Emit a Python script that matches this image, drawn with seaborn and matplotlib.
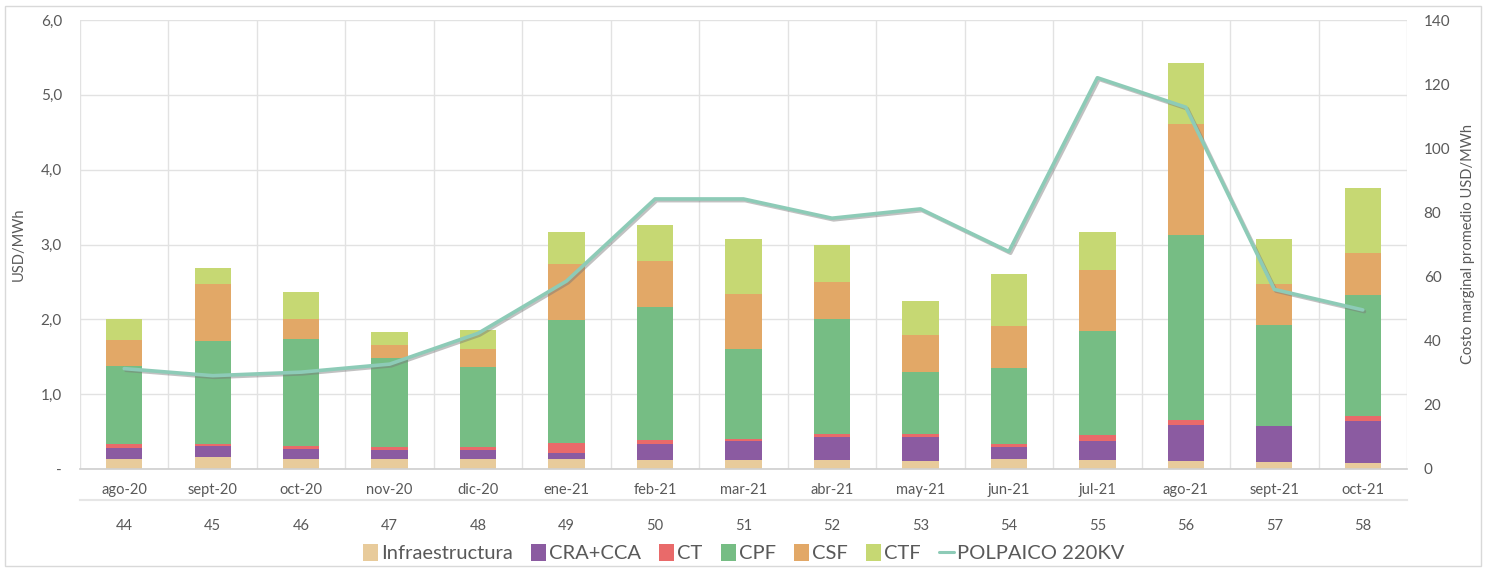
import numpy as np
import pandas as pd
import matplotlib
matplotlib.use("Agg")
import matplotlib.pyplot as plt
import matplotlib.patheffects as pe
from matplotlib.patches import Rectangle, Patch
from matplotlib.lines import Line2D
from matplotlib.ticker import FuncFormatter
import seaborn as sns

# datos
months = ["ago-20", "sept-20", "oct-20", "nov-20", "dic-20", "ene-21", "feb-21", "mar-21",
          "abr-21", "may-21", "jun-21", "jul-21", "ago-21", "sept-21", "oct-21"]
weeks = [44, 45, 46, 47, 48, 49, 50, 51, 52, 53, 54, 55, 56, 57, 58]
infra = [0.13, 0.16, 0.14, 0.13, 0.13, 0.14, 0.12, 0.12, 0.12, 0.11, 0.13, 0.12, 0.11, 0.09, 0.08]
cra_cca = [0.15, 0.15, 0.13, 0.13, 0.12, 0.07, 0.21, 0.25, 0.31, 0.32, 0.17, 0.25, 0.48, 0.49, 0.56]
ct = [0.06, 0.03, 0.04, 0.03, 0.05, 0.14, 0.06, 0.03, 0.04, 0.04, 0.04, 0.09, 0.07, 0.00, 0.07]
cpf = [1.04, 1.37, 1.43, 1.19, 1.06, 1.64, 1.78, 1.20, 1.54, 0.83, 1.01, 1.38, 2.47, 1.35, 1.61]
csf = [0.35, 0.76, 0.27, 0.18, 0.25, 0.75, 0.61, 0.74, 0.49, 0.49, 0.56, 0.82, 1.48, 0.54, 0.56]
ctf = [0.27, 0.21, 0.36, 0.17, 0.25, 0.43, 0.48, 0.73, 0.49, 0.46, 0.70, 0.51, 0.81, 0.61, 0.88]
polpaico = [31.3, 29.1, 30.2, 32.7, 42.3, 58.6, 84.2, 84.2, 78.2, 81.1, 67.8, 122.0, 112.8, 56.0, 49.6]

layers = ["Infraestructura", "CRA+CCA", "CT", "CPF", "CSF", "CTF"]
colors = {"Infraestructura": "#E8CB9B", "CRA+CCA": "#8B5BA1", "CT": "#E96A6A",
          "CPF": "#76BD84", "CSF": "#E2A867", "CTF": "#C6D873"}
line_color = "#8DCBB7"
grey = "#595959"
grid_c = "#E2E2E2"

df = pd.DataFrame({"mes": months, "Infraestructura": infra, "CRA+CCA": cra_cca, "CT": ct,
                   "CPF": cpf, "CSF": csf, "CTF": ctf})
cum = df[layers].cumsum(axis=1)

sns.set_theme(style="white")
plt.rcParams["font.family"] = ["Lato", "DejaVu Sans"]

W, H = 1487, 572
fig = plt.figure(figsize=(W / 100, H / 100), dpi=100)
ax = fig.add_axes([80 / W, 1 - 469 / H, 1327 / W, 449 / H])

# barras apiladas: se dibujan los acumulados de arriba hacia abajo
for name in reversed(layers):
    sns.barplot(x=df["mes"], y=cum[name], order=months, color=colors[name], width=0.41,
                saturation=1, errorbar=None, linewidth=0, edgecolor="none", ax=ax, zorder=2)

ax.set_xlim(-0.5, len(months) - 0.5)
ax.set_ylim(0, 6)
ax.set_yticks(np.arange(0, 7, 1))
ax.yaxis.set_major_formatter(FuncFormatter(lambda v, p: "-" if v == 0 else f"{v:.1f}".replace(".", ",")))
ax.set_xlabel("")
ax.set_ylabel("USD/MWh", color=grey, fontsize=10.5)
ax.yaxis.set_label_coords(-0.041, 0.5)
ax.tick_params(axis="y", length=0, pad=13, labelsize=11, labelcolor=grey)
ax.tick_params(axis="x", which="major", length=0, pad=10, labelsize=10.5, labelcolor=grey)
ax.set_xticks(np.arange(-0.5, len(months), 1), minor=True)
ax.tick_params(axis="x", which="minor", length=4, color=grid_c, width=1)
ax.yaxis.grid(True, color=grid_c, lw=1)
ax.xaxis.grid(True, which="minor", color=grid_c, lw=1)
ax.xaxis.grid(False, which="major")
ax.set_axisbelow(True)
for s in ["left", "right", "top"]:
    ax.spines[s].set_visible(False)
ax.spines["bottom"].set_color("#D0D0D0")

# segunda fila de etiquetas (semanas)
sec = ax.secondary_xaxis(-0.069)
sec.set_xticks(np.arange(len(weeks)), labels=[str(w) for w in weeks])
sec.tick_params(length=0, pad=14, labelsize=10.5, labelcolor=grey)
sec.spines["bottom"].set_color("#E6E6E6")
sec.spines["bottom"].set_linewidth(1.5)

# costo marginal en eje derecho
ax2 = ax.twinx()
sns.lineplot(x=np.arange(len(months)), y=polpaico, color=line_color, lw=2.6, ax=ax2,
             path_effects=[pe.SimpleLineShadow(offset=(1.2, -1.2), shadow_color="#777777", alpha=0.45),
                           pe.Normal()])
ax2.set_xlim(-0.5, len(months) - 0.5)
ax2.set_ylim(0, 140)
ax2.set_yticks(np.arange(0, 141, 20))
ax2.tick_params(axis="y", length=0, pad=12, labelsize=11, labelcolor=grey)
ax2.set_ylabel("Costo marginal promedio USD/MWh", color=grey, fontsize=10.5)
ax2.yaxis.set_label_coords(1.0407, 0.5)
ax2.grid(False)
for s in ax2.spines.values():
    s.set_visible(False)

handles = [Patch(facecolor=colors[n], edgecolor="none") for n in layers]
handles.append(Line2D([0], [0], color=line_color, lw=2.2))
fig.legend(handles, layers + ["POLPAICO 220KV"], loc="center", bbox_to_anchor=(0.5, 1 - 553 / H),
           ncol=7, frameon=False, fontsize=14.5, handlelength=0.75, handleheight=0.95,
           handletextpad=0.15, columnspacing=0.9, labelcolor=grey)

fig.patches.append(Rectangle((5 / W, 1 - 566 / H), 1476 / W, 560 / H, transform=fig.transFigure,
                             fill=False, edgecolor="#D9D9D9", lw=1))

fig.savefig("out.png", dpi=100)
